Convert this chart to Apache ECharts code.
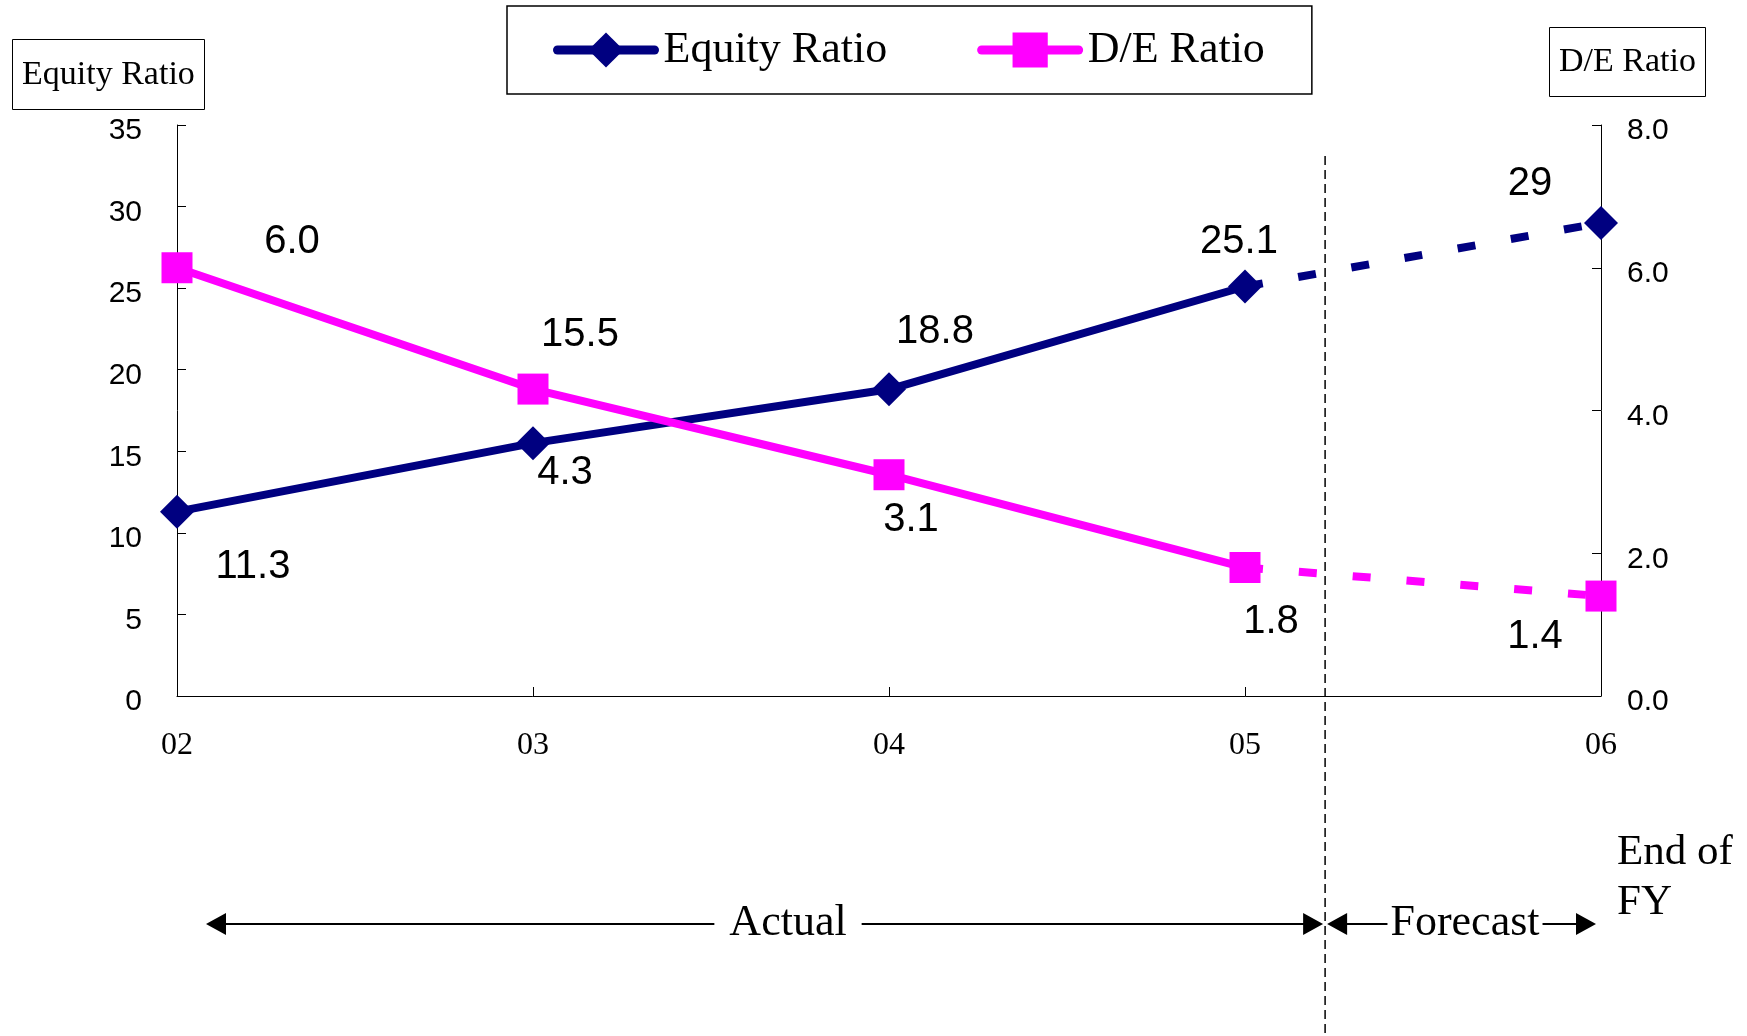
<!DOCTYPE html>
<html>
<head>
<meta charset="utf-8">
<script src="https://cdn.jsdelivr.net/npm/echarts@6/dist/echarts.min.js"></script>
<style>
  html, body { margin: 0; padding: 0; background: #fff; }
  #main { width: 1747px; height: 1036px; }
</style>
</head>
<body>
<div id="main"></div>
<script>
// data
const years = ['02', '03', '04', '05', '06'];
const equityRatio = [11.3, 15.5, 18.8, 25.1, 29];
const deRatio = [6.0, 4.3, 3.1, 1.8, 1.4];
const equityTicks = [0, 5, 10, 15, 20, 25, 30, 35];
const deTicks = [0, 2, 4, 6, 8];
const LAST_ACTUAL = 3; // 05 is the last actual year, 06 is forecast

// where each value label sits, relative to its point
const equityLabelOffsets = [[76, 55], [47, -108], [46, -57], [-6, -45], [-71, -39]];
const deLabelOffsets = [[115, -26], [32, 84], [22, 45], [26, 54], [-66, 41]];

const NAVY = '#000080';
const PINK = '#FF00FF';
const SANS = 'Liberation Sans';
const SERIF = 'Liberation Serif';

const chart = echarts.init(document.getElementById('main'), null, { renderer: 'canvas' });

function solidPart(vals, offs) { //actual years, solid line
  return vals.map((v, i) => i <= LAST_ACTUAL ? { value: v, label: { offset: offs[i] } } : '-');
}

function dashedPart(vals, offs) { //forecast part, dashed line
  return vals.map((v, i) => {
    if (i < LAST_ACTUAL) return '-';
    if (i === LAST_ACTUAL) return { value: v, symbol: 'none', label: { show: false } };
    return { value: v, label: { offset: offs[i] } };
  });
}

const valueLabel = {
  show: true,
  position: 'inside',
  color: '#000',
  fontFamily: SANS,
  fontSize: 40
};

function lineSeries(name, axis, symbol, size, color, data, dashed, fmt) {
  return {
    name: name,
    type: 'line',
    yAxisIndex: axis,
    symbol: symbol,
    symbolSize: size,
    showAllSymbol: true,
    color: color,
    itemStyle: { color: color },
    lineStyle: { width: 8, color: color, type: dashed ? [18, 36] : 'solid', cap: 'butt' },
    label: Object.assign({}, valueLabel, { formatter: fmt }),
    data: data,
    z: 3
  };
}

const axisLine = { show: true, lineStyle: { color: '#000', width: 1 } };
const axisTick = { show: true, inside: true, length: 9, lineStyle: { color: '#000', width: 1 } };
const boxTitle = { fontFamily: SERIF, fontSize: 34, fontWeight: 'normal', color: '#000' };
// small line box hung from the tick, so the digits sit a little below it as in the picture
const tickText = { fontFamily: SANS, fontSize: 30, color: '#000', verticalAlign: 'top', lineHeight: 12 };

const option = {
  animation: false,
  backgroundColor: '#fff',
  title: [{
    text: 'Equity Ratio',
    left: 12, top: 39,
    borderColor: '#000', borderWidth: 1,
    padding: [19, 10, 18, 10],
    textStyle: boxTitle
  }, {
    text: 'D/E Ratio',
    left: 1549, top: 27,
    borderColor: '#000', borderWidth: 1,
    padding: [18, 10, 18, 10],
    textStyle: boxTitle
  }],
  legend: {
    data: ['Equity Ratio', 'D/E Ratio'],
    left: 507, top: 6,
    borderColor: '#000', borderWidth: 1.5,
    padding: [22, 47, 22, 46],
    itemWidth: 97, itemHeight: 44, itemGap: 90,
    selectedMode: false,
    lineStyle: { width: 9, cap: 'round' },
    textStyle: { fontFamily: SERIF, fontSize: 44, color: '#000', padding: [0, 0, 0, 4] }
  },
  grid: { left: 177, right: 146, top: 125, bottom: 340 },
  xAxis: {
    type: 'category',
    boundaryGap: false,
    data: years,
    axisLine: axisLine,
    axisTick: axisTick,
    axisLabel: { margin: 34, fontFamily: SERIF, fontSize: 32, color: '#000' },
    splitLine: { show: false }
  },
  yAxis: [{
    type: 'value',
    position: 'left',
    min: equityTicks[0], max: equityTicks[equityTicks.length - 1],
    interval: equityTicks[1] - equityTicks[0],
    axisLine: axisLine,
    axisTick: axisTick,
    axisLabel: Object.assign({ margin: 35 }, tickText),
    splitLine: { show: false }
  }, {
    type: 'value',
    position: 'right',
    min: deTicks[0], max: deTicks[deTicks.length - 1],
    interval: deTicks[1] - deTicks[0],
    axisLine: axisLine,
    axisTick: axisTick,
    axisLabel: Object.assign({ margin: 26, formatter: v => v.toFixed(1) }, tickText),
    splitLine: { show: false }
  }],
  series: [
    lineSeries('Equity Ratio', 0, 'diamond', 34, NAVY, solidPart(equityRatio, equityLabelOffsets), false, p => String(p.value)),
    lineSeries('Equity Ratio', 0, 'diamond', 34, NAVY, dashedPart(equityRatio, equityLabelOffsets), true, p => String(p.value)),
    lineSeries('D/E Ratio', 1, 'rect', 31, PINK, solidPart(deRatio, deLabelOffsets), false, p => p.value.toFixed(1)),
    lineSeries('D/E Ratio', 1, 'rect', 31, PINK, dashedPart(deRatio, deLabelOffsets), true, p => p.value.toFixed(1))
  ]
};

chart.setOption(option);

// actual / forecast divider and arrows, placed from the axis
const px = i => chart.convertToPixel({ xAxisIndex: 0 }, i);
const divX = px(LAST_ACTUAL) + (px(LAST_ACTUAL + 1) - px(LAST_ACTUAL)) * 0.225;
const arrowY = 924;

function arrowHead(tx, dir) { //dir -1 points left, 1 points right
  return {
    type: 'polygon',
    shape: { points: [[tx, arrowY], [tx - dir * 20, arrowY - 11], [tx - dir * 20, arrowY + 11]] },
    style: { fill: '#000' }
  };
}

function arrowText(text, cx, pad) {
  return {
    type: 'text', x: cx, y: arrowY - 1, z: 10,
    style: {
      text: text, fill: '#000', fontFamily: SERIF, fontSize: 44,
      align: 'center', verticalAlign: 'middle',
      backgroundColor: '#fff', padding: [0, pad]
    }
  };
}

const actL = px(0) + 29, actR = divX - 2;
const fcL = divX + 2, fcR = px(4) - 5;

chart.setOption({
  graphic: [
    { type: 'line', shape: { x1: divX, y1: 156, x2: divX, y2: 1036 }, style: { stroke: '#000', lineWidth: 1.5, lineDash: [9, 5] } },
    { type: 'line', shape: { x1: actL + 10, y1: arrowY, x2: actR - 10, y2: arrowY }, style: { stroke: '#000', lineWidth: 2 } },
    arrowHead(actL, -1), arrowHead(actR, 1),
    arrowText('Actual', 788, 15),
    { type: 'line', shape: { x1: fcL + 10, y1: arrowY, x2: fcR - 10, y2: arrowY }, style: { stroke: '#000', lineWidth: 2 } },
    arrowHead(fcL, -1), arrowHead(fcR, 1),
    arrowText('Forecast', 1465, 3),
    {
      type: 'text', x: 1617, y: 828,
      style: { text: 'End of\nFY', fill: '#000', fontFamily: SERIF, fontSize: 43, lineHeight: 50, align: 'left', verticalAlign: 'top' }
    }
  ]
});
</script>
</body>
</html>
